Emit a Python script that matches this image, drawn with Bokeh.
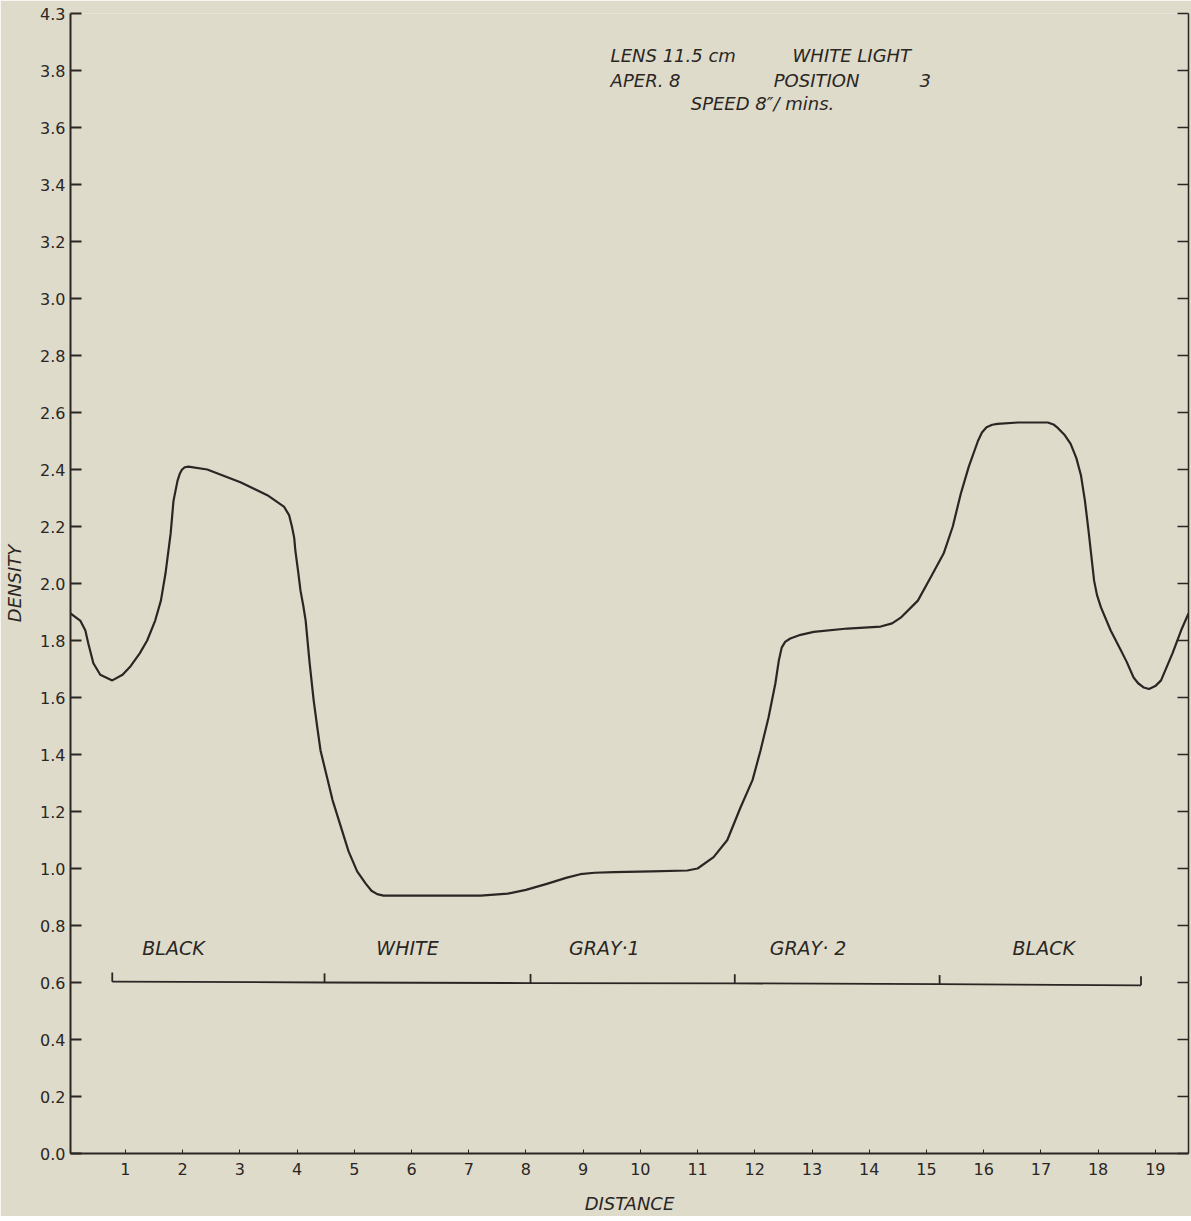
from bokeh.plotting import figure
from bokeh.models import Range1d, FixedTicker, LinearAxis, ColumnDataSource, CustomLabelingPolicy
from bokeh.core.properties import value
from bokeh.embed import file_html
from bokeh.resources import INLINE

# ---- data ----
distance = [0.04, 0.21, 0.30, 0.35, 0.44, 0.56, 0.77, 0.95, 1.09, 1.25, 1.38, 1.52, 1.62,
            1.70, 1.79, 1.84, 1.91, 1.95, 1.99, 2.04, 2.10, 2.43, 3.01, 3.48, 3.77, 3.86, 3.91,
            3.95, 3.97, 4.02, 4.06, 4.11, 4.15, 4.22, 4.29, 4.35, 4.41, 4.62, 4.90, 5.05, 5.20,
            5.30, 5.40, 5.51, 6.50, 7.21, 7.68, 8.00, 8.38, 8.70, 8.95, 9.20, 9.54, 10.20, 10.82,
            11.00, 11.28, 11.52, 11.75, 11.96, 12.10, 12.24, 12.36, 12.42, 12.47, 12.53, 12.62,
            12.80, 13.03, 13.62, 14.20, 14.40, 14.55, 14.85, 15.07, 15.30, 15.46, 15.60, 15.74,
            15.90, 15.97, 16.05, 16.15, 16.24, 16.60, 17.12, 17.22, 17.30, 17.42, 17.52, 17.62,
            17.70, 17.77, 17.83, 17.88, 17.93, 17.98, 18.05, 18.22, 18.40, 18.50, 18.62, 18.70,
            18.80, 18.89, 19.00, 19.10, 19.30, 19.45, 19.58]
density = [1.895, 1.87, 1.835, 1.79, 1.72, 1.68, 1.66, 1.68, 1.71, 1.755, 1.80, 1.87, 1.94,
           2.035, 2.175, 2.29, 2.36, 2.385, 2.40, 2.408, 2.41, 2.40, 2.355, 2.31, 2.27, 2.24, 2.20,
           2.16, 2.115, 2.04, 1.975, 1.92, 1.87, 1.72, 1.59, 1.50, 1.414, 1.24, 1.06, 0.99, 0.947,
           0.922, 0.91, 0.905, 0.905, 0.905, 0.912, 0.925, 0.947, 0.967, 0.980, 0.985, 0.987, 0.99,
           0.993, 1.0, 1.04, 1.10, 1.214, 1.31, 1.414, 1.53, 1.65, 1.73, 1.775, 1.795, 1.807,
           1.82, 1.83, 1.842, 1.849, 1.86, 1.88, 1.94, 2.02, 2.105, 2.20, 2.315, 2.41,
           2.50, 2.53, 2.548, 2.557, 2.56, 2.565, 2.565, 2.558, 2.545, 2.52, 2.49, 2.44,
           2.38, 2.29, 2.19, 2.10, 2.01, 1.96, 1.916, 1.835, 1.765, 1.725, 1.67, 1.65,
           1.635, 1.63, 1.64, 1.66, 1.755, 1.835, 1.895]

x_ticks = list(range(1, 20))
y_ticks = [round(0.2 * i, 1) for i in range(21)]
y_tick_labels = {v: f"{v:.1f}" for v in y_ticks}
y_tick_labels[4.0] = "4.3"

segment_names = ["BLACK", "WHITE", "GRAY\u00b71", "GRAY\u00b7 2", "BLACK"]
segment_label_x = [1.84, 5.93, 9.37, 12.93, 17.05]
segment_label_y = [0.72, 0.72, 0.72, 0.72, 0.72]
segment_bounds = [0.77, 4.48, 8.08, 11.65, 15.23, 18.75]
segment_bound_y = [0.603, 0.600, 0.598, 0.597, 0.594, 0.590]

note_texts = ["LENS  11.5 cm", "WHITE  LIGHT", "APER.  8", "POSITION", "3", "SPEED  8\u2033/ mins."]
note_x = [9.48, 12.66, 9.48, 12.33, 14.88, 10.88]
note_y = [3.853, 3.853, 3.765, 3.765, 3.765, 3.684]

# ---- styling ----
BG = "#dedbca"
INK = "#2a2624"
FONT = "DejaVu Sans"

p = figure(frame_width=1118, frame_height=1140, output_backend="svg", toolbar_location=None,
           x_range=Range1d(0.04, 19.58), y_range=Range1d(0.0, 4.0),
           min_border_left=70, min_border_top=13, min_border_right=0, min_border_bottom=60,
           background_fill_color=BG, border_fill_color=BG, outline_line_color=None)
p.grid.visible = False

# bottom axis
xa = p.xaxis[0]
xa.ticker = FixedTicker(ticks=x_ticks)
xa.axis_label = "DISTANCE"
xa.axis_label_text_font = FONT
xa.axis_label_text_font_style = "italic"
xa.axis_label_text_font_size = "18px"
xa.axis_label_text_color = INK
xa.axis_label_standoff = 15
xa.major_label_text_font = FONT
xa.major_label_text_font_size = "16px"
xa.major_label_text_color = INK
xa.major_label_standoff = 9
xa.major_tick_in = 4
xa.major_tick_out = 0
xa.minor_tick_line_color = None
xa.axis_line_color = INK
xa.axis_line_width = 2
xa.major_tick_line_color = INK

# left axis
ya = p.yaxis[0]
ya.ticker = FixedTicker(ticks=y_ticks)
ya.major_label_overrides = y_tick_labels
ya.axis_label = "DENSITY"
ya.axis_label_text_font = FONT
ya.axis_label_text_font_style = "italic"
ya.axis_label_text_font_size = "18px"
ya.axis_label_text_color = INK
ya.axis_label_standoff = 12
ya.major_label_text_font = FONT
ya.major_label_text_font_size = "16px"
ya.major_label_text_color = INK
ya.major_label_standoff = 5
ya.major_tick_in = 11
ya.major_tick_out = 0
ya.major_tick_line_width = 2
ya.minor_tick_line_color = None
ya.axis_line_color = INK
ya.axis_line_width = 2
ya.major_tick_line_color = INK

# right axis (ticks only, no labels)
ra = LinearAxis(ticker=FixedTicker(ticks=y_ticks), major_tick_in=11, major_tick_out=0,
                major_label_policy=CustomLabelingPolicy(code="return new Set()"),
                major_label_standoff=0,
                minor_tick_line_color=None, axis_line_color=INK, axis_line_width=1.5,
                major_tick_line_color=INK, major_tick_line_width=1.5)
p.add_layout(ra, "right")

# density curve
p.line(distance, density, line_color=INK, line_width=2.2, line_join="round")

# segment bracket
p.line(segment_bounds, segment_bound_y, line_color=INK, line_width=1.8)
p.segment(x0=segment_bounds, y0=segment_bound_y, x1=segment_bounds,
          y1=[v + 0.032 for v in segment_bound_y], line_color=INK, line_width=1.8)

seg_src = ColumnDataSource(dict(x=segment_label_x, y=segment_label_y, t=segment_names))
p.text(x="x", y="y", text="t", source=seg_src, text_font=value(FONT), text_font_style="italic",
       text_font_size="19px", text_color=INK, text_align="center", text_baseline="middle")

note_src = ColumnDataSource(dict(x=note_x, y=note_y, t=note_texts))
p.text(x="x", y="y", text="t", source=note_src, text_font=value(FONT), text_font_style="italic",
       text_font_size="18px", text_color=INK, text_align="left", text_baseline="middle")

open("out.html", "w").write(file_html(p, INLINE))
